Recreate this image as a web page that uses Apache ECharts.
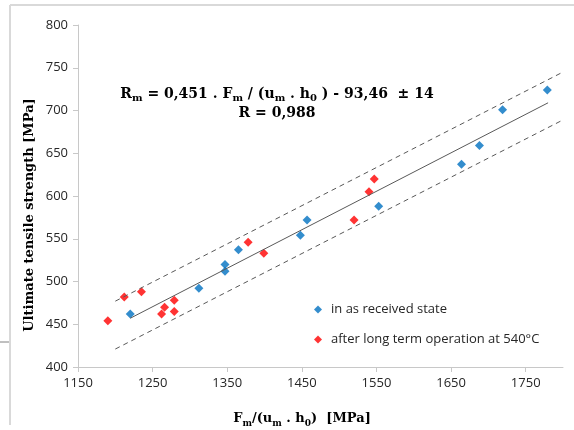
<!DOCTYPE html>
<html>
<head>
<meta charset="utf-8">
<script src="https://cdn.jsdelivr.net/npm/echarts@6/dist/echarts.min.js"></script>
<style>
  html, body { margin: 0; padding: 0; background: #fff; }
  #chartDiv { width: 574px; height: 430px; }
</style>
</head>
<body>
<div id="chartDiv"></div>
<script>
// values
var receivedX = [1220, 1312, 1347, 1347, 1365, 1448, 1457, 1553, 1664, 1688, 1719, 1779];
var receivedY = [462, 492, 520, 512, 537, 554, 572, 588, 637, 659, 701, 724];
var operatedX = [1190, 1212, 1235, 1262, 1266, 1279, 1279, 1378, 1399, 1520, 1540, 1547];
var operatedY = [454, 482, 488, 462, 470, 478, 465, 546, 533, 572, 605, 620];
// regression line and the band around it (end points)
var fitX = [1220, 1780];
var fitY = [457, 709];
var bandX = [1200, 1800];
var upperY = [477, 745];
var lowerY = [421, 689];

var receivedName = 'in as received state';
var operatedName = 'after long term operation at 540°C';

function pairs(xs, ys) {
    var out = [];
    for (var i = 0; i < xs.length; i++) out.push([xs[i], ys[i]]);
    return out;
}

var chart = echarts.init(document.getElementById('chartDiv'));
var serif = '"DejaVu Serif", "Liberation Serif", serif';
var sans = '"Open Sans", "Liberation Sans", sans-serif';
var bigStyle = { fontFamily: serif, fontWeight: 'bold', fontSize: 13, color: '#000', lineHeight: 18 };
var subStyle = { fontFamily: serif, fontWeight: 'bold', fontSize: 9, color: '#000', lineHeight: 9, verticalAlign: 'bottom' };
var eqBig = { fontFamily: serif, fontWeight: 'bold', fontSize: 14, color: '#000', lineHeight: 19 };
var eqSub = { fontFamily: serif, fontWeight: 'bold', fontSize: 10, color: '#000', lineHeight: 10, verticalAlign: 'bottom' };

option = {
    animation: false,
    backgroundColor: '#fff',
    grid: { left: 78, right: 11, top: 25, bottom: 63, containLabel: false },
    xAxis: {
        type: 'value',
        min: 1150,
        max: 1800,
        interval: 100,
        splitLine: { show: false },
        axisLine: { lineStyle: { color: '#c8c8c8' } },
        axisTick: { length: 5, lineStyle: { color: '#c8c8c8' } },
        axisLabel: {
            showMaxLabel: false, color: '#262626', fontFamily: sans, fontSize: 13, margin: 10,
            formatter: function (v) { return String(v); }
        }
    },
    yAxis: {
        type: 'value',
        min: 400,
        max: 800,
        interval: 50,
        splitLine: { show: false },
        axisLine: { show: true, lineStyle: { color: '#c8c8c8' } },
        axisTick: { show: true, length: 5, lineStyle: { color: '#c8c8c8' } },
        axisLabel: { color: '#262626', fontFamily: sans, fontSize: 13, margin: 10 }
    },
    legend: {
        orient: 'vertical',
        left: 309,
        top: 298,
        itemGap: 17,
        itemWidth: 8,
        itemHeight: 8,
        icon: 'diamond',
        data: [receivedName, operatedName],
        textStyle: { fontFamily: sans, fontSize: 13, color: '#262626', padding: [0, 0, 0, 4] }
    },
    graphic: [
        { type: 'line', shape: { x1: 10, y1: 5, x2: 574, y2: 5 }, style: { stroke: '#d9d9d9', lineWidth: 2 } },
        { type: 'line', shape: { x1: 10, y1: 5, x2: 10, y2: 425 }, style: { stroke: '#d9d9d9', lineWidth: 2 } },
        { type: 'line', shape: { x1: 0, y1: 342, x2: 9, y2: 342 }, style: { stroke: '#808080', lineWidth: 1 } },
        {
            type: 'text', x: 277, y: 94,
            style: {
                text: '{b|R}{s|m}{b| = 0,451 . F}{s|m}{b| / (u}{s|m}{b| . h}{s|0}{b| ) - 93,46  ± 14}',
                x: 0, y: 0, align: 'center', verticalAlign: 'middle',
                rich: { b: eqBig, s: eqSub }
            }
        },
        {
            type: 'text', x: 277, y: 113,
            style: {
                text: 'R = 0,988', x: 0, y: 0, align: 'center', verticalAlign: 'middle',
                fontFamily: serif, fontWeight: 'bold', fontSize: 14, fill: '#000'
            }
        },
        {
            type: 'text', x: 302, y: 419,
            style: {
                text: '{b|F}{s|m}{b|/(u}{s|m}{b| . h}{s|0}{b|)  [MPa]}',
                x: 0, y: 0, align: 'center', verticalAlign: 'middle',
                rich: { b: bigStyle, s: subStyle }
            }
        },
        {
            type: 'text', x: 30, y: 215, rotation: Math.PI / 2,
            style: {
                text: 'Ultimate tensile strength [MPa]', x: 0, y: 0,
                align: 'center', verticalAlign: 'middle',
                fontFamily: serif, fontWeight: 'bold', fontSize: 13, fill: '#000'
            }
        }
    ],
    series: [
        {
            name: 'band upper',
            type: 'line',
            data: pairs(bandX, upperY),
            showSymbol: false,
            silent: true,
            lineStyle: { color: '#595959', width: 1, type: [5, 4] }
        },
        {
            name: 'band lower',
            type: 'line',
            data: pairs(bandX, lowerY),
            showSymbol: false,
            silent: true,
            lineStyle: { color: '#595959', width: 1, type: [5, 4] }
        },
        {
            name: 'fit',
            type: 'line',
            data: pairs(fitX, fitY),
            showSymbol: false,
            silent: true,
            lineStyle: { color: '#595959', width: 1 }
        },
        {
            name: receivedName,
            type: 'scatter',
            symbol: 'diamond',
            symbolSize: 9,
            itemStyle: { color: '#0070c0' },
            data: pairs(receivedX, receivedY)
        },
        {
            name: operatedName,
            type: 'scatter',
            symbol: 'diamond',
            symbolSize: 9,
            itemStyle: { color: '#ff0000' },
            data: pairs(operatedX, operatedY)
        }
    ]
};
chart.setOption(option);
</script>
</body>
</html>
